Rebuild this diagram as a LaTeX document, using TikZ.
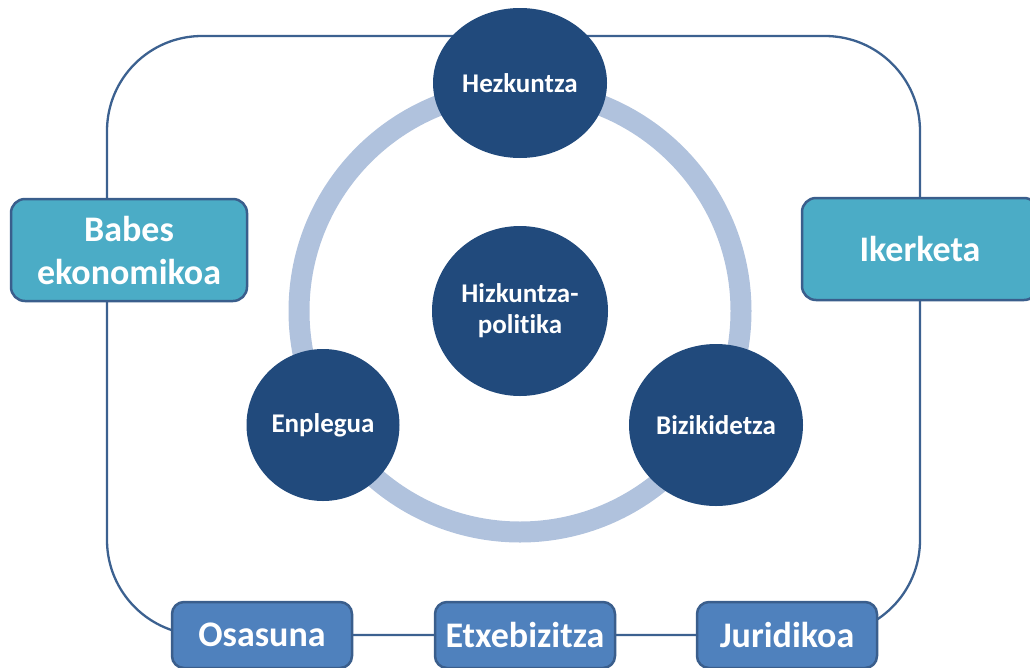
\documentclass[tikz,border=0pt]{standalone}
\usepackage{fontspec}
\setmainfont[Ligatures=NoCommon]{Carlito}
\usetikzlibrary{shapes.geometric}
\definecolor{frameblue}{HTML}{3C6190}
\definecolor{darkblue}{HTML}{214A7C}
\definecolor{ringblue}{HTML}{B0C2DD}
\definecolor{tealbox}{HTML}{4BACC6}
\definecolor{midblue}{HTML}{4F81BD}
\definecolor{boxborder}{HTML}{3A5E8C}
\tikzset{
  hub/.style={ellipse, fill=darkblue, text=white, inner sep=0pt,
    font=\fontsize{27}{31}\selectfont\bfseries, align=center},
  sidebox/.style={rectangle, rounded corners=14pt, fill=tealbox, draw=boxborder,
    line width=2.5pt, text=white, inner sep=0pt, minimum width=236pt, minimum height=102pt,
    font=\fontsize{36}{43}\selectfont\bfseries, align=center},
  footbox/.style={rectangle, rounded corners=12pt, fill=midblue, draw=boxborder,
    line width=2.5pt, text=white, inner sep=0pt, minimum width=180pt, minimum height=66pt,
    font=\fontsize{36}{40}\selectfont\bfseries},
  frame/.style={draw=frameblue, line width=2.3pt},
}
\begin{document}
\begin{tikzpicture}[x=1pt,y=-1pt]
\useasboundingbox (0,0) rectangle (1030,667);
\begin{scope}
\clip (0,0) rectangle (1030,667);
% outer frame
\draw[frame, rounded corners=95pt] (107,36) rectangle (920,635);
% ring
\draw[ringblue, line width=21pt] (520,311) circle (221pt);
% circles
\node[hub, minimum width=174pt, minimum height=150pt] (hez) at (520,83) {Hezkuntza};
\node[hub, minimum width=176pt, minimum height=170pt] (hiz) at (520,311) {Hizkuntza-\\politika};
\node[hub, minimum width=153pt, minimum height=152pt] (enp) at (323,425) {Enplegua};
\node[hub, minimum width=174pt, minimum height=162pt] (biz) at (716,425) {Bizikidetza};
% side boxes
\node[sidebox] (bab) at (129,250) {Babes\\ekonomikoa};
\node[sidebox] (ike) at (920,249) {Ikerketa};
% bottom boxes
\node[footbox] (osa) at (262,635) {Osasuna};
\node[footbox] (etx) at (525,635) {Etxebizitza};
\node[footbox] (jur) at (787,635) {Juridikoa};
\draw[frame] (osa) -- (etx);
\draw[frame] (etx) -- (jur);
\end{scope}
\end{tikzpicture}
\end{document}
